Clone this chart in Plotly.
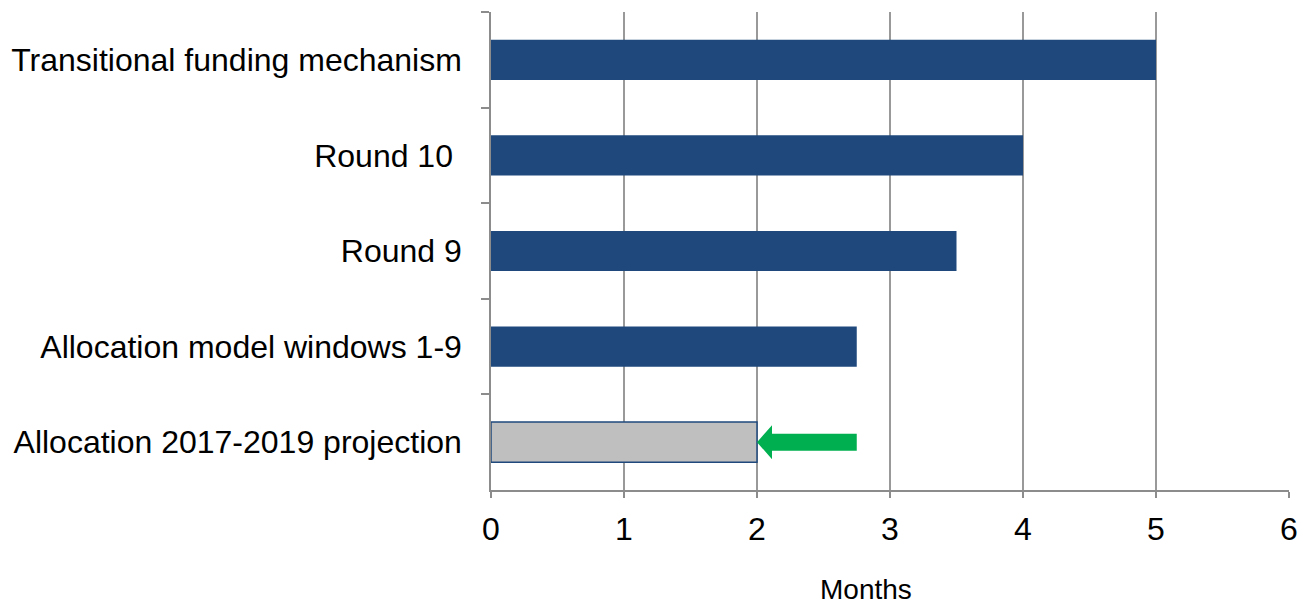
import plotly.graph_objects as go

categories = ["Transitional funding mechanism", "Round 10\u00a0", "Round 9",
              "Allocation model windows 1-9", "Allocation 2017-2019 projection"]
months = [5, 4, 3.5, 2.75, 2]
bar_colors = ["#1F497D", "#1F497D", "#1F497D", "#1F497D", "#BFBFBF"]
line_widths = [0, 0, 0, 0, 1.5]
x_ticks = [0, 1, 2, 3, 4, 5, 6]
arrow_from = 2.75
arrow_to = 2

W, H = 1300, 604
L, R, T, B = 491, 11, 12, 114
PW, PH = W - L - R, H - T - B

fig = go.Figure(go.Bar(
    y=categories, x=months, orientation="h",
    marker=dict(color=bar_colors, line=dict(color="#1F497D", width=line_widths)),
    width=0.42,
))

# green arrow from 2.75 pointing to 2 on the projection row
row = categories.index("Allocation 2017-2019 projection")
px_per_x = PW / 6.0
px_per_y = PH / len(categories)
head_len = 15 / px_per_x
head_half = 17 / px_per_y
shaft_half = 8.5 / px_per_y
x0, x1 = arrow_to, arrow_from
xh = x0 + head_len
path = (f"M {x0},{row} L {xh},{row - head_half} L {xh},{row - shaft_half} "
        f"L {x1},{row - shaft_half} L {x1},{row + shaft_half} L {xh},{row + shaft_half} "
        f"L {xh},{row + head_half} Z")
fig.add_shape(type="path", path=path, xref="x", yref="y",
              fillcolor="#00B050", line=dict(width=0))

fig.add_annotation(text="Months", xref="paper", yref="paper",
                   x=(866 - L) / PW, y=-(589 - (H - B)) / PH,
                   showarrow=False, xanchor="center", yanchor="middle",
                   font=dict(size=28, color="#000000"))

fig.update_layout(
    width=W, height=H,
    margin=dict(l=L, r=R, t=T, b=B, pad=0, autoexpand=False),
    plot_bgcolor="#FFFFFF", paper_bgcolor="#FFFFFF",
    font=dict(family="Liberation Sans, Arial, sans-serif", size=32, color="#000000"),
    showlegend=False,
    xaxis=dict(range=[0, 6], tickvals=x_ticks, showgrid=True, gridcolor="#999999",
               gridwidth=1.5, showline=True, linecolor="#8C8C8C", linewidth=1.5,
               ticks="outside", ticklen=6, tickcolor="#8C8C8C", tickwidth=1.5,
               zeroline=False, tickfont=dict(size=32), fixedrange=True,
               ticklabelstandoff=4, automargin=False),
    yaxis=dict(autorange="reversed", type="category", showgrid=False,
               showline=True, linecolor="#8C8C8C", linewidth=1.5,
               ticks="outside", tickson="boundaries", ticklen=8,
               tickcolor="#8C8C8C", tickwidth=1.5, tickfont=dict(size=32),
               ticklabelstandoff=21, fixedrange=True, automargin=False),
)

fig.write_html(
    "out.html",
    config={"displayModeBar": False},
    post_script="document.body.style.margin='0';"
                "document.documentElement.style.overflow='hidden';",
)
